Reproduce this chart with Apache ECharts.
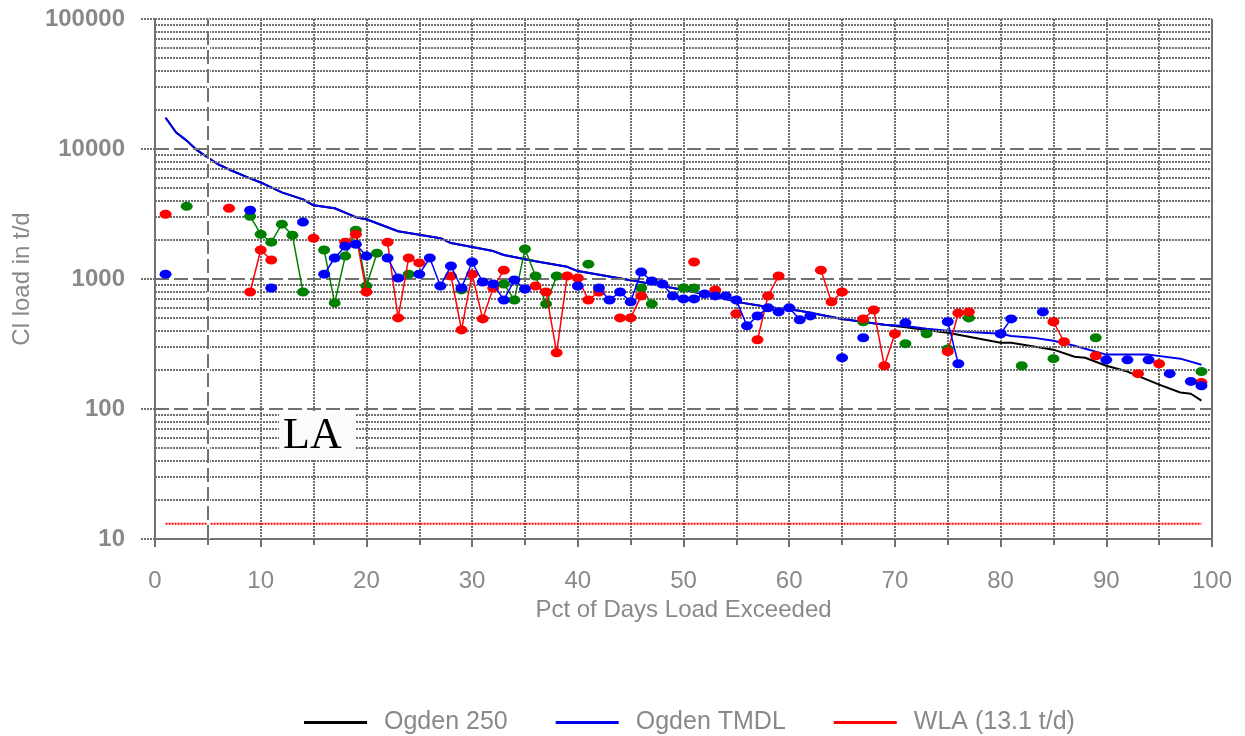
<!DOCTYPE html>
<html>
<head>
<meta charset="utf-8">
<script src="https://cdn.jsdelivr.net/npm/echarts@6/dist/echarts.min.js"></script>
<style>
  html, body { margin: 0; padding: 0; background: #fff; }
  #chart { width: 1245px; height: 736px; }
</style>
</head>
<body>
<div id="chart"></div>
<script>
// load duration curves (pct of days exceeded -> t/d)
const tmdlPct = [1, 2, 3, 4, 5, 6, 7, 9, 10, 12, 14, 15, 17, 19, 20, 23, 27, 28, 32, 33, 36, 39, 40, 45, 48, 50, 53, 55, 58, 61, 65, 69, 71, 73, 75, 80, 81, 83, 85, 87, 90, 94, 97, 99];
const tmdlLoad = [17400, 13400, 11600, 9750, 8600, 7600, 6960, 5950, 5530, 4640, 4100, 3690, 3500, 2990, 2880, 2330, 2060, 1890, 1640, 1530, 1370, 1240, 1150, 980, 884, 824, 741, 667, 610, 569, 493, 445, 435, 414, 400, 379, 364, 354, 335, 307, 262, 262, 244, 219];

const ogdenPct = [1, 2, 3, 4, 5, 6, 7, 9, 10, 12, 14, 15, 17, 19, 20, 23, 27, 28, 32, 33, 36, 39, 40, 45, 48, 50, 53, 55, 58, 61, 65, 69, 71, 75, 80, 81, 85, 87, 88, 90, 92, 95, 97, 98, 99];
const ogdenLoad = [17400, 13400, 11600, 9750, 8600, 7600, 6960, 5950, 5530, 4640, 4100, 3690, 3500, 2990, 2880, 2330, 2060, 1890, 1640, 1530, 1370, 1240, 1150, 980, 884, 824, 741, 667, 610, 569, 493, 445, 425, 386, 323, 323, 286, 252, 248, 215, 194, 154, 134, 131, 116];

const wlaPct = [1, 99];
const wlaLoad = [13.1, 13.1];

// observed loads, by colour
const greenPct = [3, 9, 10, 11, 12, 13, 14, 16, 17, 18, 19, 20, 21, 24, 29, 33, 34, 35, 36, 37, 38, 41, 46, 47, 50, 51, 67, 71, 73, 75, 77, 82, 85, 89, 99];
const greenLoad = [3620, 3040, 2210, 1920, 2640, 2170, 794, 1670, 655, 1500, 2370, 884, 1580, 1090, 824, 916, 690, 1700, 1055, 643, 1055, 1300, 853, 643, 853, 853, 469, 318, 379, 290, 502, 215, 244, 353, 194];

const redPct = [1, 7, 9, 10, 11, 15, 18, 19, 20, 22, 23, 24, 25, 28, 29, 30, 31, 32, 33, 36, 37, 38, 39, 40, 41, 42, 44, 45, 46, 51, 53, 55, 57, 58, 59, 63, 64, 65, 67, 68, 69, 70, 75, 76, 77, 85, 86, 89, 93, 95, 99];
const redLoad = [3150, 3500, 794, 1670, 1400, 2060, 1920, 2210, 794, 1920, 502, 1450, 1330, 1055, 406, 1090, 493, 853, 1170, 884, 794, 271, 1055, 1018, 690, 794, 502, 502, 741, 1350, 824, 540, 341, 741, 1055, 1170, 667, 794, 493, 578, 215, 379, 276, 548, 558, 469, 329, 257, 187, 223, 160];

const bluePct = [1, 9, 11, 14, 16, 17, 18, 19, 20, 22, 23, 25, 26, 27, 28, 29, 30, 31, 32, 33, 34, 35, 40, 42, 43, 44, 45, 46, 47, 48, 49, 50, 51, 52, 53, 54, 55, 56, 57, 58, 59, 60, 61, 62, 65, 67, 71, 75, 76, 80, 81, 84, 90, 92, 94, 96, 98, 99];
const blueLoad = [1090, 3380, 853, 2740, 1090, 1450, 1790, 1850, 1500, 1450, 1018, 1090, 1450, 884, 1260, 853, 1350, 948, 916, 690, 982, 838, 884, 853, 690, 794, 667, 1130, 966, 916, 741, 703, 703, 767, 741, 741, 690, 436, 520, 600, 558, 600, 485, 520, 248, 353, 460, 469, 223, 379, 493, 558, 239, 239, 239, 187, 163, 151];

const xTicks = [0, 10, 20, 30, 40, 50, 60, 70, 80, 90, 100];

const gray = '#898989';
const gridGray = '#707070';
const font = 'Liberation Sans, Arial, sans-serif';

function pairs(pct, load) {
  return pct.map((p, i) => [p, load[i]]);
}

// only neighbouring days are joined by a line
function withGaps(pct, load) {
  const out = [];
  for (let i = 0; i < pct.length; i++) {
    if (i > 0 && pct[i] - pct[i - 1] > 1) out.push([pct[i - 1] + 0.5, '-']);
    out.push([pct[i], load[i]]);
  }
  return out;
}

const dotted = { color: gridGray, width: 2, type: [2, 1] };
const dashed = { color: gridGray, width: 2, type: [14, 5] };

const gridLines = [];
[10, 100, 1000, 10000].forEach(dec => {
  for (let m = 2; m <= 9; m++) gridLines.push({ yAxis: dec * m, lineStyle: dotted });
});
[100, 1000, 10000].forEach(v => gridLines.push({ yAxis: v, lineStyle: dashed }));
gridLines.push({ yAxis: 100000, lineStyle: dotted });
gridLines.push({ xAxis: 5, lineStyle: { color: '#fff', width: 3, type: 'solid' } });
gridLines.push({ xAxis: 5, lineStyle: dashed });
gridLines.push({ xAxis: 100, lineStyle: { color: gridGray, width: 2, type: 'solid' } });

function obsSeries(name, color, pct, load, z) {
  return {
    name: name,
    type: 'line',
    data: withGaps(pct, load),
    connectNulls: false,
    symbol: 'circle',
    symbolSize: [12, 9],
    showAllSymbol: true,
    itemStyle: { color: color },
    lineStyle: { color: color, width: 1.5 },
    z: z
  };
}

const chart = echarts.init(document.getElementById('chart'));
const option = {
  animation: false,
  backgroundColor: '#fff',
  grid: { left: 155, right: 33, top: 19, bottom: 197, outerBoundsMode: 'none' },
  legend: {
    data: ['Ogden 250', 'Ogden TMDL', 'WLA (13.1 t/d)'],
    left: 299,
    top: 705,
    icon: 'rect',
    itemWidth: 63,
    itemHeight: 3,
    itemGap: 48,
    textStyle: { color: gray, fontSize: 25, fontFamily: font, padding: [0, 0, 0, 12] }
  },
  xAxis: {
    type: 'value',
    min: 0,
    max: 100,
    interval: 10,
    name: 'Pct of Days Load Exceeded',
    nameLocation: 'middle',
    nameGap: 56,
    nameTextStyle: { color: gray, fontSize: 24, fontFamily: font },
    axisLine: { show: true, onZero: false, lineStyle: dotted },
    axisTick: { show: true, length: 8, lineStyle: { color: gridGray, width: 2 } },
    minorTick: { show: true, splitNumber: 2, length: 6, lineStyle: { color: gridGray, width: 2 } },
    axisLabel: {
      color: gray, fontSize: 24, fontFamily: font, margin: 30,
      formatter: v => xTicks.indexOf(v) >= 0 ? String(v) : ''
    },
    splitLine: { show: true, lineStyle: dotted },
    minorSplitLine: { show: true, lineStyle: dotted }
  },
  yAxis: {
    type: 'log',
    logBase: 10,
    min: 10,
    max: 100000,
    name: 'Cl load in t/d',
    nameLocation: 'middle',
    nameGap: 104,
    nameTextStyle: { color: gray, fontSize: 24, fontFamily: font },
    axisLine: { show: true, lineStyle: { color: gridGray, width: 2 } },
    axisTick: { show: true, length: 15, lineStyle: dotted },
    axisLabel: {
      color: gray, fontSize: 24, fontWeight: 'bold', fontFamily: font, margin: 30,
      formatter: v => String(Math.round(v))
    },
    splitLine: { show: false }
  },
  graphic: [
    { type: 'rect', left: 279, top: 412, shape: { width: 77, height: 48 }, style: { fill: '#fcfbf9' }, z: 50 },
    { type: 'text', left: 283, top: 414, style: { text: 'LA', fill: '#000', font: '44px "Liberation Serif", "Times New Roman", serif' }, z: 51 }
  ],
  series: [
    {
      name: 'grid',
      type: 'line',
      data: [],
      silent: true,
      z: 1,
      markLine: { silent: true, symbol: 'none', label: { show: false }, animation: false, data: gridLines }
    },
    {
      name: 'Ogden 250',
      type: 'line',
      data: pairs(ogdenPct, ogdenLoad),
      symbol: 'none',
      lineStyle: { color: '#000', width: 2 },
      itemStyle: { color: '#000' },
      z: 3
    },
    {
      name: 'Ogden TMDL',
      type: 'line',
      data: pairs(tmdlPct, tmdlLoad),
      symbol: 'none',
      lineStyle: { color: '#0000ee', width: 2 },
      itemStyle: { color: '#0000ee' },
      z: 4
    },
    {
      name: 'WLA (13.1 t/d)',
      type: 'line',
      data: pairs(wlaPct, wlaLoad),
      symbol: 'none',
      lineStyle: { color: '#ff0000', width: 2, type: [2, 1] },
      itemStyle: { color: '#ff0000' },
      z: 4
    },
    obsSeries('green obs', '#008000', greenPct, greenLoad, 5),
    obsSeries('red obs', '#ff0000', redPct, redLoad, 6),
    obsSeries('blue obs', '#0000ff', bluePct, blueLoad, 7)
  ]
};
chart.setOption(option);
</script>
</body>
</html>
